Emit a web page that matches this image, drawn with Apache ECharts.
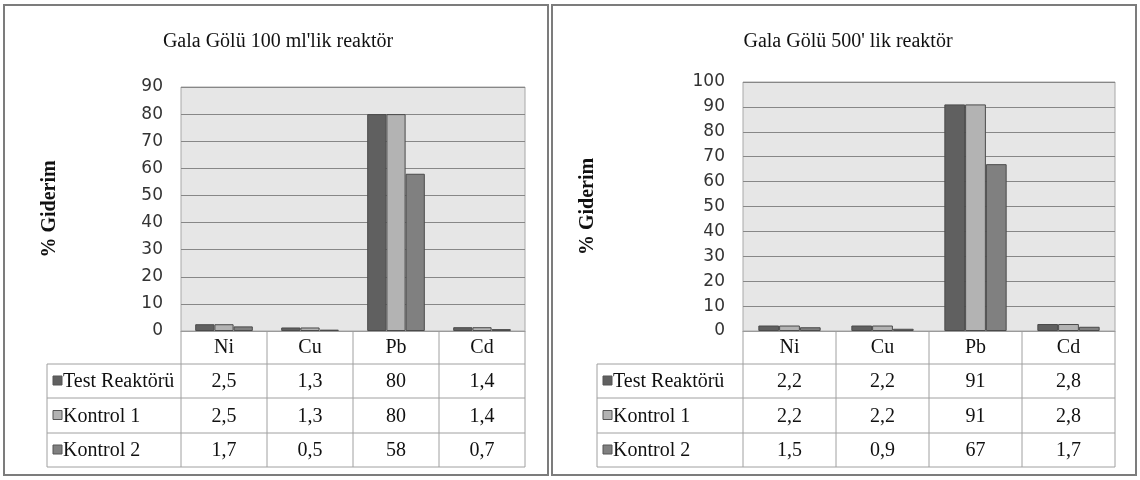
<!DOCTYPE html>
<html>
<head>
<meta charset="utf-8">
<title>Gala Gölü</title>
<script src="https://cdn.jsdelivr.net/npm/echarts@6/dist/echarts.min.js"></script>
<style>
  html, body { margin: 0; padding: 0; background: #ffffff; }
  #chart { width: 1140px; height: 480px; }
</style>
</head>
<body>
<div id="chart"></div>
<script>
// Categories and series
const categories = ['Ni', 'Cu', 'Pb', 'Cd'];
const seriesNames = ['Test Reaktörü', 'Kontrol 1', 'Kontrol 2'];
const panelTitles = ["Gala Gölü 100 ml'lik reaktör", "Gala Gölü 500' lik reaktör"];
const axisTitle = '% Giderim';
const yMaxValues = [90, 100];

// 100 ml reactor (% removal)
const test100 = [2.5, 1.3, 80, 1.4];
const kontrol1_100 = [2.5, 1.3, 80, 1.4];
const kontrol2_100 = [1.7, 0.5, 58, 0.7];

// 500 reactor (% removal)
const test500 = [2.2, 2.2, 91, 2.8];
const kontrol1_500 = [2.2, 2.2, 91, 2.8];
const kontrol2_500 = [1.5, 0.9, 67, 1.7];

const panelData = [
  [test100, kontrol1_100, kontrol2_100],
  [test500, kontrol1_500, kontrol2_500]
];

const barColors = ['#606060', '#b3b3b3', '#808080'];
const serif = '"Liberation Serif", "Times New Roman", serif';

// Layout of the two panels
const panels = [
  { box: [4, 5, 544, 470], grid: { left: 181, top: 87, width: 344, height: 244 }, tableLeft: 47, titleX: 278, nameGap: 121 },
  { box: [552, 5, 584, 470], grid: { left: 743, top: 82, width: 372, height: 249 }, tableLeft: 597, titleX: 848, nameGap: 145 }
];
const rowBounds = [331, 364, 398, 433, 467]; // header + three data rows

const fmt = v => String(v).replace('.', ',');

const chart = echarts.init(document.getElementById('chart'), null, { renderer: 'canvas' });

const grids = [], xAxes = [], yAxes = [], series = [];
panels.forEach((p, i) => {
  grids.push(Object.assign({
    show: true, backgroundColor: '#e6e6e6', borderColor: '#a8a8a8', borderWidth: 1, containLabel: false
  }, p.grid));
  xAxes.push({
    type: 'category', gridIndex: i, data: categories,
    axisLine: { show: true, lineStyle: { color: '#9a9a9a', width: 1 } },
    axisTick: { show: false },
    axisLabel: { show: true, margin: 7, color: '#111', fontFamily: serif, fontSize: 20 }
  });
  yAxes.push({
    type: 'value', gridIndex: i, min: 0, max: yMaxValues[i], interval: 10,
    name: axisTitle, nameLocation: 'middle', nameGap: p.nameGap, nameRotate: 90,
    nameTextStyle: { fontFamily: serif, fontWeight: 'bold', fontSize: 20, color: '#111' },
    axisLine: { show: false }, axisTick: { show: false },
    axisLabel: { margin: 18, color: '#333', fontFamily: '"DejaVu Sans", sans-serif', fontSize: 17 },
    splitLine: { show: true, lineStyle: { color: '#878787', width: 1.2 } }
  });
  seriesNames.forEach((name, s) => {
    series.push({
      type: 'bar', name: name, xAxisIndex: i, yAxisIndex: i,
      data: panelData[i][s],
      barGap: '0%', barCategoryGap: '33%',
      itemStyle: { color: barColors[s], borderColor: '#4a4a4a', borderWidth: 1 },
      silent: true
    });
  });
});

chart.setOption({
  animation: false,
  backgroundColor: '#ffffff',
  grid: grids, xAxis: xAxes, yAxis: yAxes, series: series
});

// Panel frames, titles and the data table under each chart
const graphics = [];
panels.forEach((p, i) => {
  const [bx, by, bw, bh] = p.box;
  graphics.push({
    type: 'rect', z: -10, silent: true,
    shape: { x: bx, y: by, width: bw, height: bh },
    style: { fill: '#ffffff', stroke: '#7c7c7c', lineWidth: 2 }
  });
  graphics.push({
    type: 'text', silent: true, x: p.titleX, y: 42,
    style: { text: panelTitles[i], font: '20px ' + serif, fill: '#111', align: 'center', verticalAlign: 'middle' }
  });

  const g = p.grid;
  const gl = g.left, gr = g.left + g.width;
  const centers = categories.map((c, k) => chart.convertToPixel({ xAxisIndex: i }, c));
  const edges = [gl];
  for (let k = 0; k < centers.length - 1; k++) edges.push((centers[k] + centers[k + 1]) / 2);
  edges.push(gr);

  const lineStyle = { stroke: '#a0a0a0', lineWidth: 1 };
  // column separators through header and data rows
  edges.forEach(x => graphics.push({
    type: 'line', silent: true, shape: { x1: x, y1: rowBounds[0], x2: x, y2: rowBounds[4] }, style: lineStyle
  }));
  // left edge of the legend column
  graphics.push({ type: 'line', silent: true, shape: { x1: p.tableLeft, y1: rowBounds[1], x2: p.tableLeft, y2: rowBounds[4] }, style: lineStyle });
  // row separators
  for (let r = 1; r < rowBounds.length; r++) {
    graphics.push({ type: 'line', silent: true, shape: { x1: p.tableLeft, y1: rowBounds[r], x2: gr, y2: rowBounds[r] }, style: lineStyle });
  }
  // rows: legend key + series name + values
  seriesNames.forEach((name, s) => {
    const yMid = (rowBounds[s + 1] + rowBounds[s + 2]) / 2;
    graphics.push({
      type: 'rect', silent: true,
      shape: { x: p.tableLeft + 6, y: yMid - 5, width: 9, height: 9 },
      style: { fill: barColors[s], stroke: '#555', lineWidth: 1 }
    });
    graphics.push({
      type: 'text', silent: true, x: p.tableLeft + 16, y: yMid + 1,
      style: { text: name, font: '20px ' + serif, fill: '#111', align: 'left', verticalAlign: 'middle' }
    });
    panelData[i][s].forEach((v, k) => {
      graphics.push({
        type: 'text', silent: true, x: centers[k], y: yMid + 1,
        style: { text: fmt(v), font: '20px ' + serif, fill: '#111', align: 'center', verticalAlign: 'middle' }
      });
    });
  });
});

chart.setOption({ graphic: graphics });
</script>
</body>
</html>
